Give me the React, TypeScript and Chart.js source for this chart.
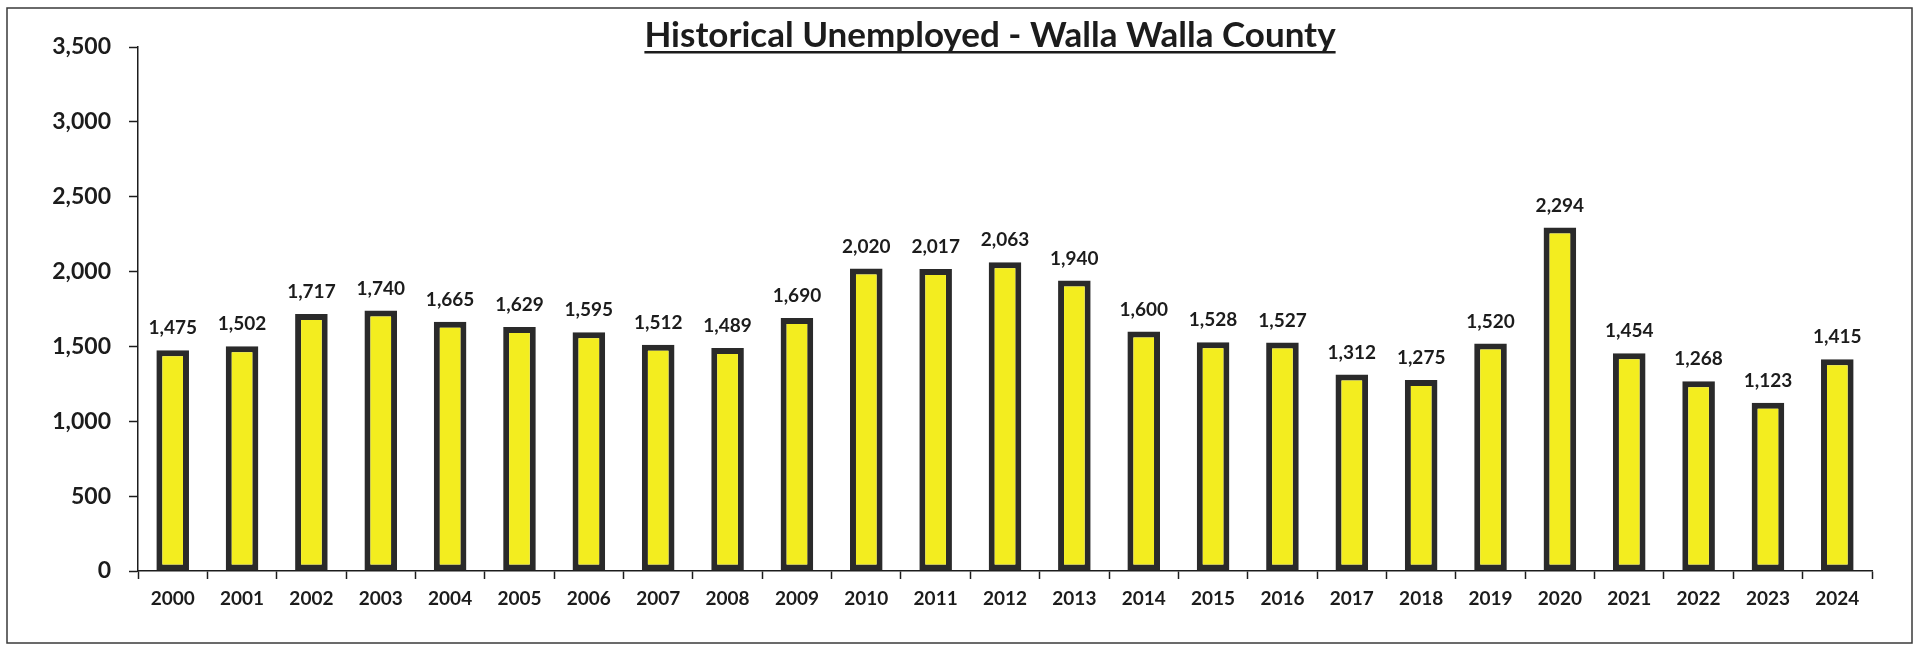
import React, { useEffect, useRef } from "react";
import { Chart, registerables } from "chart.js";

Chart.register(...registerables);

const TITLE = "Historical Unemployed - Walla Walla County";
const YEARS = [
  "2000", "2001", "2002", "2003", "2004", "2005", "2006", "2007", "2008", "2009",
  "2010", "2011", "2012", "2013", "2014", "2015", "2016", "2017", "2018", "2019",
  "2020", "2021", "2022", "2023", "2024",
];
const UNEMPLOYED = [
  1475, 1502, 1717, 1740, 1665, 1629, 1595, 1512, 1489, 1690,
  2020, 2017, 2063, 1940, 1600, 1528, 1527, 1312, 1275, 1520,
  2294, 1454, 1268, 1123, 1415,
];
const Y_MIN = 0;
const Y_MAX = 3500;
const Y_STEP = 500;

const W = 1919;
const H = 645;
const FONT = "Lato, 'Open Sans', sans-serif";
const fmt = (v: number) => v.toLocaleString("en-US");

const framePlugin = {
  id: "frame",
  beforeDraw(chart: any) {
    const ctx = chart.ctx;
    ctx.save();
    ctx.fillStyle = "#ffffff";
    ctx.fillRect(0, 0, chart.width, chart.height);
    ctx.strokeStyle = "#3a3a3a";
    ctx.lineWidth = 1.5;
    ctx.strokeRect(7, 8, 1905, 635);
    ctx.restore();
  },
};

const titlePlugin = {
  id: "ulTitle",
  afterDraw(chart: any) {
    const ctx = chart.ctx;
    ctx.save();
    ctx.font = `bold 35px ${FONT}`;
    ctx.fillStyle = "#1c1c1c";
    ctx.textAlign = "center";
    ctx.textBaseline = "alphabetic";
    const cx = 990;
    const base = 47;
    ctx.fillText(TITLE, cx, base);
    const w = ctx.measureText(TITLE).width;
    ctx.fillRect(cx - w / 2, 51, w, 2.5);
    ctx.restore();
  },
};

const labelsPlugin = {
  id: "barLabels",
  afterDatasetsDraw(chart: any) {
    const ctx = chart.ctx;
    const meta = chart.getDatasetMeta(0);
    const data = chart.data.datasets[0].data as number[];
    ctx.save();
    ctx.font = `bold 19px ${FONT}`;
    ctx.fillStyle = "#1c1c1c";
    ctx.textAlign = "center";
    ctx.textBaseline = "middle";
    meta.data.forEach((bar: any, i: number) => {
      ctx.fillText(fmt(data[i]), bar.x, bar.y - 22);
    });
    ctx.restore();
  },
};

export default function App() {
  const ref = useRef<HTMLCanvasElement>(null);

  useEffect(() => {
    if (!ref.current) return;
    const chart = new Chart(ref.current, {
      type: "bar",
      data: {
        labels: YEARS,
        datasets: [
          {
            data: UNEMPLOYED,
            backgroundColor: "#f3ed1f",
            borderColor: "#2a2a2a",
            borderWidth: 6,
            borderSkipped: false,
            categoryPercentage: 1,
            barPercentage: 0.47,
          },
        ],
      },
      options: {
        responsive: false,
        animation: false,
        devicePixelRatio: 1,
        layout: { padding: { top: 47, right: 47, left: 0, bottom: 0 } },
        plugins: {
          legend: { display: false },
          title: { display: false },
          tooltip: { enabled: false },
        },
        scales: {
          x: {
            afterFit: (s: any) => {
              s.height = 74;
            },
            grid: {
              drawOnChartArea: false,
              drawTicks: true,
              tickLength: 8,
              tickColor: "#1c1c1c",
              tickWidth: 1.5,
              offset: true,
            },
            border: { display: true, color: "#1c1c1c", width: 1.5 },
            ticks: {
              color: "#1c1c1c",
              font: { family: FONT, size: 19, weight: "bold" },
              padding: 8,
              maxRotation: 0,
              autoSkip: false,
            },
          },
          y: {
            min: Y_MIN,
            max: Y_MAX,
            afterFit: (s: any) => {
              s.width = 138;
            },
            grid: {
              drawOnChartArea: false,
              drawTicks: true,
              tickLength: 9,
              tickColor: "#1c1c1c",
              tickWidth: 1.5,
            },
            border: { display: true, color: "#1c1c1c", width: 1.5 },
            ticks: {
              stepSize: Y_STEP,
              color: "#1c1c1c",
              font: { family: FONT, size: 23, weight: "bold" },
              padding: 18,
              callback: (v: any) => fmt(Number(v)),
            },
          },
        },
      },
      plugins: [framePlugin, labelsPlugin, titlePlugin],
    });
    return () => chart.destroy();
  }, []);

  return (
    <div style={{ width: W, height: H, overflow: "hidden" }}>
      <style>{"body{margin:0;background:#fff;}"}</style>
      <canvas ref={ref} width={W} height={H} style={{ display: "block", width: W, height: H }} />
    </div>
  );
}
